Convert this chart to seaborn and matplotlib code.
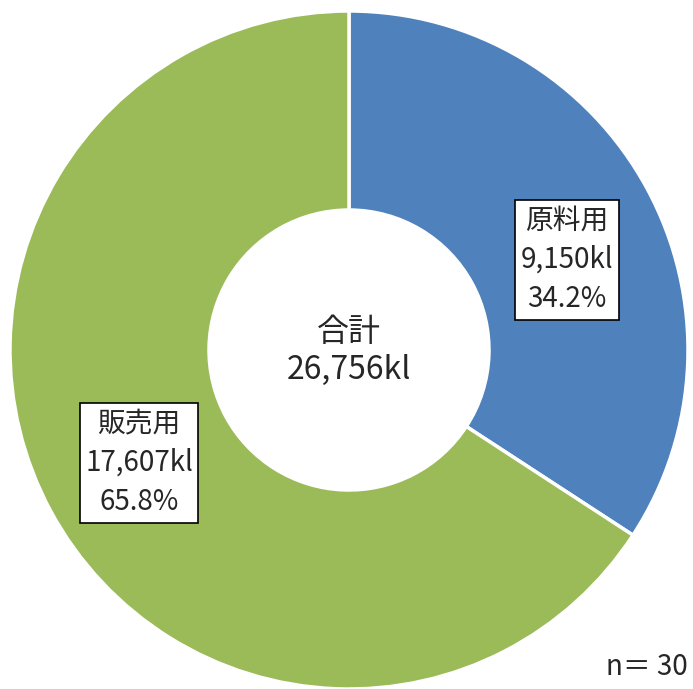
import matplotlib
matplotlib.use("Agg")
import matplotlib.pyplot as plt
import seaborn as sns

# Data
categories = ["原料用", "販売用"]
volumes_kl = [9150, 17607]
shares_pct = [34.2, 65.8]
total_kl = 26756
n_resp = 30
colors = ["#4F81BD", "#9BBB59"]

sns.set_theme(style="white")
plt.rcParams["font.family"] = ["Noto Sans CJK JP", "DejaVu Sans"]

W, H = 693, 689
fig = plt.figure(figsize=(W / 100, H / 100), dpi=100)
ax = fig.add_axes([0, 0, 1, 1])

cx, cy, r = 349, 350, 339  # pixel centre and radius
palette = sns.color_palette(colors)
wedges, _ = ax.pie(
    volumes_kl,
    colors=palette,
    startangle=90,
    counterclock=False,
    radius=1.0,
    wedgeprops=dict(width=1 - 140 / 339, edgecolor="white", linewidth=2.5),
)
ax.set_aspect("auto")
ax.set_xlim(-cx / r, (W - cx) / r)
ax.set_ylim(-(H - cy) / r, cy / r)
ax.axis("off")

label_pos = [((567 - cx) / r, (cy - 260) / r), ((139 - cx) / r, (cy - 463) / r)]
for cat, v, p, (x, y) in zip(categories, volumes_kl, shares_pct, label_pos):
    ax.text(
        x, y, f"{cat}\n{v:,}kl\n{p:.1f}%",
        ha="center", va="center", fontsize=20, linespacing=1.4,
        bbox=dict(boxstyle="square,pad=0.2", fc="white", ec="black", lw=1.2),
    )

ax.text(0, (cy - 351) / r, f"合計\n{total_kl:,}kl", ha="center", va="center",
        fontsize=23, linespacing=1.2)
fig.text(688 / W, 1 - 667 / H, f"n＝ {n_resp}", ha="right", va="center", fontsize=20)

fig.savefig("out.png", dpi=100)
